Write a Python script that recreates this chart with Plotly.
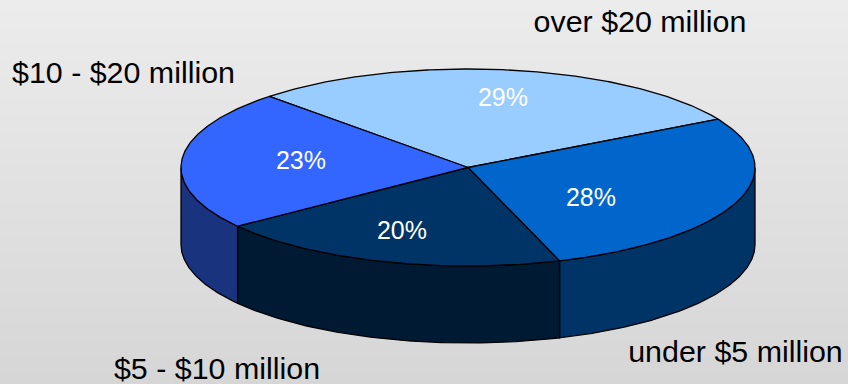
import numpy as np
import plotly.graph_objects as go

# Revenue bands, clockwise from the first slice
categories = ["over $20 million", "under $5 million", "$5 - $10 million", "$10 - $20 million"]
shares = [29, 28, 20, 23]

top_colors = ["#99ccff", "#0066cc", "#003366", "#3366ff"]
wall_colors = ["#4d6680", "#003366", "#001a33", "#19337f"]

# Pie geometry on a canvas measured in pixels
CX, CY, RX, RY, DEPTH = 468.0, 167.5, 287.0, 98.5, 77.0
START_DEG = 133.8

# Where each text label is placed
share_label_x = [503, 591, 402, 301]
share_label_y = [100, 200, 233, 163]
name_label_x = [640, 735.5, 217, 123.5]
name_label_y = [24, 354, 371, 75]

WIDTH, HEIGHT = 848, 384


def ellipse(deg, drop=0.0):
    rad = np.radians(deg)
    return CX + RX * np.cos(rad), CY - RY * np.sin(rad) + drop


def arc(a0, a1):
    count = max(2, int(abs(a1 - a0) * 2) + 1)
    return np.linspace(a0, a1, count)


fig = go.Figure()

# Soft vertical gradient behind the pie
rows = np.arange(0, HEIGHT + 1, 4)
fig.add_trace(go.Heatmap(
    x=[0, WIDTH], y=rows, z=[[r, r] for r in rows],
    colorscale=[[0, "#ececec"], [1, "#d6d6d6"]],
    showscale=False, hoverinfo="skip",
))

# Slice boundaries in degrees, running clockwise
edges = START_DEG - np.cumsum([0] + shares) * 360.0 / sum(shares)

# Outer walls: only the part of each slice on the near half is visible
for i in range(len(shares)):
    a0, a1 = edges[i], edges[i + 1]
    lo, hi = max(a1, -180.0), min(a0, 0.0)
    if hi <= lo:
        continue
    angles = arc(hi, lo)
    x_top, y_top = ellipse(angles)
    x_low, y_low = ellipse(angles[::-1], DEPTH)
    fig.add_trace(go.Scatter(
        x=np.r_[x_top, x_low, x_top[0]], y=np.r_[y_top, y_low, y_top[0]],
        mode="lines", fill="toself", fillcolor=wall_colors[i],
        line=dict(color="#000000", width=1.3), hoverinfo="skip",
    ))

# Top faces
for i in range(len(shares)):
    x_arc, y_arc = ellipse(arc(edges[i], edges[i + 1]))
    fig.add_trace(go.Scatter(
        x=np.r_[CX, x_arc, CX], y=np.r_[CY, y_arc, CY],
        mode="lines", fill="toself", fillcolor=top_colors[i],
        line=dict(color="#000000", width=1.3),
        name=categories[i], hoverinfo="skip",
    ))

# Percentages on the slices
fig.add_trace(go.Scatter(
    x=share_label_x, y=share_label_y, mode="text",
    text=[f"{s}%" for s in shares], textposition="middle center",
    textfont=dict(family="Liberation Sans", size=25, color="#ffffff"),
    hoverinfo="skip",
))

# Category names around the pie
fig.add_trace(go.Scatter(
    x=name_label_x, y=name_label_y, mode="text",
    text=categories, textposition="middle center",
    textfont=dict(family="Liberation Sans", size=30.4, color="#000000"),
    hoverinfo="skip",
))

fig.update_layout(
    width=WIDTH, height=HEIGHT,
    margin=dict(l=0, r=0, t=0, b=0),
    showlegend=False,
    paper_bgcolor="#e2e2e2", plot_bgcolor="#e2e2e2",
    xaxis=dict(range=[0, WIDTH], visible=False, fixedrange=True),
    yaxis=dict(range=[HEIGHT, 0], visible=False, fixedrange=True),
)

fig.write_html("out.html", config={"displayModeBar": False})
